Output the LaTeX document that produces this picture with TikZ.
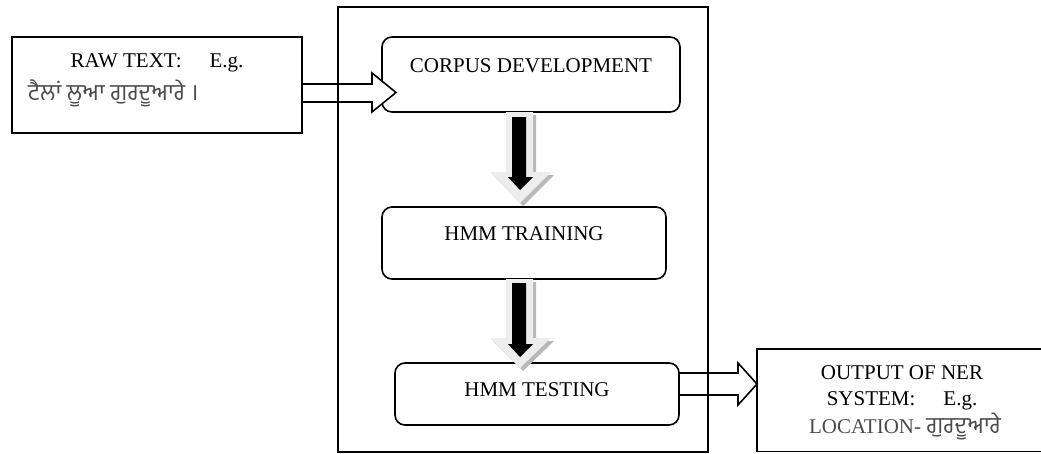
\documentclass[tikz,border=0pt]{standalone}
\usepackage{fontspec}
\setmainfont{Liberation Serif}
\newfontfamily\gurmukhi[Script=Gurmukhi,Scale=1.1]{Hind Jalandhar}
\usetikzlibrary{calc}
\definecolor{txtgray}{gray}{0.3}
\definecolor{shaftlight}{gray}{0.93}
\definecolor{shaftdark}{gray}{0.72}
\tikzset{
  box/.style={draw, line width=1.6pt, inner sep=0pt, outer sep=0pt},
  rbox/.style={box, rounded corners=10pt},
  lbl/.style={inner sep=0pt, font=\fontsize{21}{25}\selectfont},
  blockarrow/.style={draw, line width=1.6pt, fill=white, line join=miter},
  downlight/.style={fill=shaftlight},
  downshadow/.style={fill=shaftdark},
  downdark/.style={fill=black},
}
\begin{document}
\begin{tikzpicture}[x=1pt, y=-1pt]
\useasboundingbox (0,0) rectangle (1041,453);
\begin{scope}
\clip (0,0) rectangle (1041,453);

% input and output boxes
\node[box, minimum width=290pt, minimum height=96pt] (raw) at (157,85) {};
\node[box, minimum width=290pt, minimum height=102.5pt] (out) at (902,400.25) {};

% processing steps
\node[rbox, minimum width=298pt, minimum height=75pt] (corpus) at (531,74.5) {};
\node[rbox, minimum width=284pt, minimum height=72pt] (train) at (524,243) {};
\node[rbox, minimum width=284pt, minimum height=62pt] (test) at (537,394) {};

% labels
\node[lbl, anchor=base] (rawt) at (157,67) {RAW TEXT:\hspace{28pt}E.g.};
\node[lbl, anchor=base west, text=txtgray] (rawp) at (28,100) {\gurmukhi ਟੈਲਾਂ ਲੂਆ ਗੁਰਦੂਆਰੇ ।};
\node[lbl, anchor=base] (corpust) at (531,72) {CORPUS DEVELOPMENT};
\node[lbl, anchor=base] (traint) at (524,240) {HMM TRAINING};
\node[lbl, anchor=base] (testt) at (537,396) {HMM TESTING};
\node[lbl, anchor=base] (out1) at (902,379) {OUTPUT OF NER};
\node[lbl, anchor=base] (out2) at (902,405) {SYSTEM:\hspace{28pt}E.g.};
\node[lbl, anchor=base, text=txtgray] (out3) at (905,433) {LOCATION- {\gurmukhi ਗੁਰਦੂਆਰੇ}};

% block arrow: raw text -> corpus
\path[blockarrow] (raw.east |- 0,84) -- (372,84) -- (372,73)
  -- ($(corpus.west |- 0,92.5)+(14,0)$) -- (372,112) -- (372,102)
  -- (raw.east |- 0,102) -- cycle;

% block arrow: testing -> output
\path[blockarrow] (test.east |- 0,373) -- (738,373) -- (738,363)
  -- (out.west |- 0,384) -- (738,405) -- (738,395)
  -- (test.east |- 0,395) -- cycle;

% shaded down arrows between the steps
\foreach \top/\hd/\tip/\btop/\bhd/\btip in
  {112/172/203/117/177/190, 279/338/368/283/344/357}{
  \path[downshadow] (509,\top+3) -- (536,\top+3) -- (536,\hd+3) -- (554,\hd+3)
     -- (523,\tip+3) -- (493,\hd+3) -- (509,\hd+3) -- cycle;
  \path[downlight] (506,\top) -- (533,\top) -- (533,\hd) -- (551,\hd)
     -- (520,\tip) -- (490,\hd) -- (506,\hd) -- cycle;
  \path[downdark] (512,\btop) -- (526,\btop) -- (526,\bhd) -- (533,\bhd)
     -- (520,\btip) -- (508,\bhd) -- (512,\bhd) -- cycle;
}

% enclosing frame of the NER system
\node[box, minimum width=370pt, minimum height=445pt] (frame) at (523,229.5) {};
\end{scope}
\end{tikzpicture}
\end{document}
